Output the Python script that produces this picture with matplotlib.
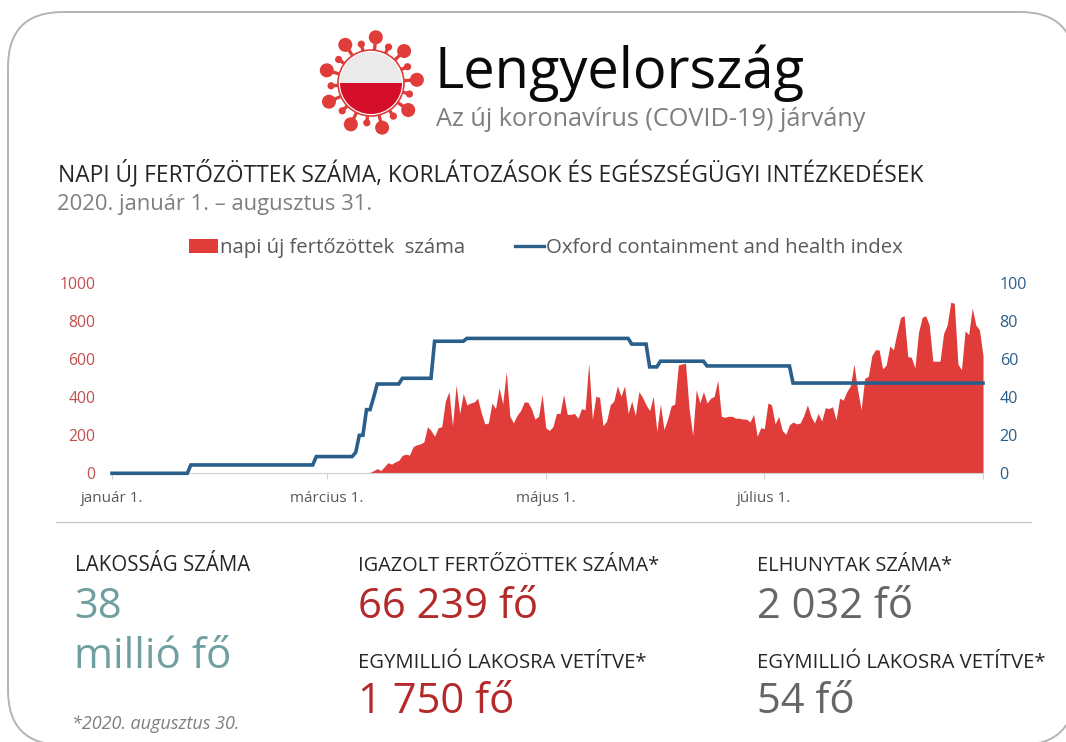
import matplotlib
matplotlib.use("Agg")
import matplotlib.pyplot as plt
import numpy as np
from matplotlib.lines import Line2D
from matplotlib.patches import Circle, FancyBboxPatch, Patch, Wedge

W, H = 1066, 742

# daily new cases, first value belongs to day 71 (january 1. = day 0)
first_case_day = 71
daily_cases = [
    0, 5, 14, 25, 14, 35, 56, 48, 60, 68, 95, 100, 96, 140, 150, 155, 165, 245, 225, 195,
    240, 245, 380, 430, 250, 465, 315, 420, 360, 370, 375, 395, 320, 260, 265, 370, 340, 450,
    365, 535, 300, 265, 305, 330, 375, 375, 340, 285, 300, 415, 240, 225, 245, 315, 315, 415,
    310, 310, 315, 290, 340, 335, 580, 285, 405, 400, 250, 275, 360, 380, 460, 405, 460, 315,
    380, 305, 430, 400, 360, 330, 405, 220, 365, 230, 285, 355, 365, 570, 575, 580, 340, 200,
    440, 370, 430, 370, 395, 405, 490, 300, 295, 300, 300, 290, 290, 285, 285, 270, 310, 195,
    240, 235, 370, 360, 260, 300, 225, 205, 255, 270, 260, 265, 305, 360, 300, 265, 315, 275,
    345, 340, 350, 280, 395, 385, 430, 460, 575, 440, 335, 500, 510, 620, 650, 650, 550, 570,
    670, 650, 740, 820, 830, 615, 610, 555, 740, 820, 830, 780, 590, 590, 590, 735, 780, 900,
    895, 575, 545, 750, 730, 870, 780, 755, 620,
]

# Oxford index, only the days where the step line changes
index_days = [0, 21, 22, 56, 57, 67, 68, 69, 70, 71, 72, 73, 74, 80, 81, 89, 90, 98, 99,
              144, 145, 149, 150, 152, 153, 165, 166, 189, 190, 243]
index_values = [0, 0, 4.4, 4.4, 8.8, 8.8, 11, 20, 20, 33.5, 33.5, 40, 47, 47, 50, 50, 69.5,
                69.5, 71, 71, 68, 68, 56, 56, 59, 59, 56.5, 56.5, 47.5, 47.5]

month_days = [0, 60, 121, 182]
month_labels = ["január 1.", "március 1.", "május 1.", "július 1."]
last_day = 243

left_ticks = [0, 200, 400, 600, 800, 1000]
right_ticks = [0, 20, 40, 60, 80, 100]

RED = "#e03c3a"
BLUE = "#2a5f8c"
GREY = "#7f7f7f"
DARK = "#262626"
TEAL = "#6fa09f"
DARKRED = "#b5292b"
NUMGREY = "#666666"
TICKRED = "#c0504d"
FONT = "Open Sans"

plt.rcParams["font.family"] = [FONT, "DejaVu Sans"]


def px_text(bg, x, y, s, size, color, **kw):
    # y is the text baseline in picture pixels
    bg.text(x, y, s, fontsize=size, color=color, va="baseline", ha="left", **kw)


def draw_virus(bg, cx, cy):
    # 9 big and 9 small spikes take turns round the ball
    for i in range(18):
        t = np.radians(-84 + 20 * i)
        big = i % 2 == 0
        tip = 46 if big else 40
        head = 7 if big else 3.6
        ux, uy = np.cos(t), np.sin(t)
        bg.plot([cx + 32 * ux, cx + tip * ux], [cy + 32 * uy, cy + tip * uy],
                color=RED, lw=2.4, solid_capstyle="butt", zorder=3)
        bg.add_patch(Circle((cx + tip * ux, cy + tip * uy), head, fc=RED, ec="none", zorder=3))
    bg.add_patch(Circle((cx, cy), 33, fc="white", ec=RED, lw=1.2, zorder=4))
    bg.add_patch(Circle((cx, cy), 31, fc="#eaeaea", ec="none", zorder=5))
    # y axis is flipped on the overlay, so the lower half is 0..180
    bg.add_patch(Wedge((cx, cy), 31, 0, 180, fc="#d50f2a", ec="none", zorder=6))


def main():
    fig = plt.figure(figsize=(W / 100, H / 100), dpi=100, facecolor="white")

    # overlay in picture pixels for the frame, header and figures
    bg = fig.add_axes([0, 0, 1, 1], zorder=0)
    bg.set_xlim(0, W)
    bg.set_ylim(H, 0)
    bg.axis("off")

    bg.add_patch(FancyBboxPatch((8 + 55, 12 + 55), 1075 - 8 - 110, 745 - 12 - 110,
                                boxstyle="round,pad=55,rounding_size=55",
                                fc="white", ec="#b4b4b4", lw=1.4))
    bg.plot([56, 1031], [522, 522], color="#c8c8c8", lw=1)

    draw_virus(bg, 371, 83)
    px_text(bg, 435, 88, "Lengyelország", 40.3, "#0a0a0a")
    px_text(bg, 436, 126, "Az új koronavírus (COVID-19) járvány", 18.2, GREY)
    px_text(bg, 58, 181, "NAPI ÚJ FERTŐZÖTTEK SZÁMA, KORLÁTOZÁSOK ÉS EGÉSZSÉGÜGYI INTÉZKEDÉSEK", 16.4, DARK)
    px_text(bg, 57, 210, "2020. január 1. – augusztus 31.", 15.8, GREY)

    px_text(bg, 75, 571, "LAKOSSÁG SZÁMA", 14.8, DARK)
    px_text(bg, 74, 618, "38", 30, TEAL)
    px_text(bg, 74, 668, "millió fő", 30.3, TEAL)
    px_text(bg, 72, 729, "*2020. augusztus 30.", 13, GREY, style="italic")

    px_text(bg, 358, 571, "IGAZOLT FERTŐZÖTTEK SZÁMA*", 14.4, DARK)
    px_text(bg, 358, 618, "66 239 fő", 30, DARKRED)
    px_text(bg, 358, 668, "EGYMILLIÓ LAKOSRA VETÍTVE*", 14.6, DARK)
    px_text(bg, 358, 713, "1 750 fő", 30, DARKRED)

    px_text(bg, 757, 571, "ELHUNYTAK SZÁMA*", 14.45, DARK)
    px_text(bg, 757, 618, "2 032 fő", 30, NUMGREY)
    px_text(bg, 757, 668, "EGYMILLIÓ LAKOSRA VETÍTVE*", 14.6, DARK)
    px_text(bg, 757, 713, "54 fő", 30, NUMGREY)

    # chart axes: january 1. at x=112, august 31. at x=983, 0 at y=473, 1000 at y=283
    ax = fig.add_axes([112 / W, 1 - 473.3 / H, 871 / W, 190 / H], zorder=1)
    ax.patch.set_alpha(0)
    days = np.arange(first_case_day, first_case_day + len(daily_cases))
    ax.fill_between(days, daily_cases, 0, color=RED, lw=0)
    ax.set_xlim(0, last_day)
    ax.set_ylim(0, 1000)
    ax.set_yticks(left_ticks)
    ax.tick_params(axis="y", length=0, labelsize=11.3, labelcolor=TICKRED, pad=12)
    ax.set_xticks(month_days + [last_day], month_labels + [""])
    ax.tick_params(axis="x", length=4, width=0.8, color="#d0d0d0", labelsize=11,
                   labelcolor="#595959", pad=9)
    for side in ["top", "left", "right"]:
        ax.spines[side].set_visible(False)
    ax.spines["bottom"].set_color("#d0d0d0")

    ax2 = ax.twinx()
    ax2.plot(index_days, index_values, color=BLUE, lw=2.6, solid_joinstyle="miter", clip_on=False)
    ax2.set_ylim(0, 100)
    ax2.set_yticks(right_ticks)
    ax2.tick_params(axis="y", length=0, labelsize=11.6, labelcolor=BLUE, pad=12)
    for side in ["top", "left", "right", "bottom"]:
        ax2.spines[side].set_visible(False)

    handles = [Patch(fc=RED, ec="none"), Line2D([0], [0], color=BLUE, lw=2.4)]
    fig.legend(handles, ["napi új fertőzöttek  száma", "Oxford containment and health index"],
               loc="center left", bbox_to_anchor=(189 / W, 1 - 248 / H), ncol=2, frameon=False,
               fontsize=14.7, labelcolor="#595959", handlelength=1.4, handleheight=0.65,
               handletextpad=0.12, columnspacing=2.45, borderpad=0, borderaxespad=0)

    fig.savefig("out.png", dpi=100)


if __name__ == "__main__":
    main()
